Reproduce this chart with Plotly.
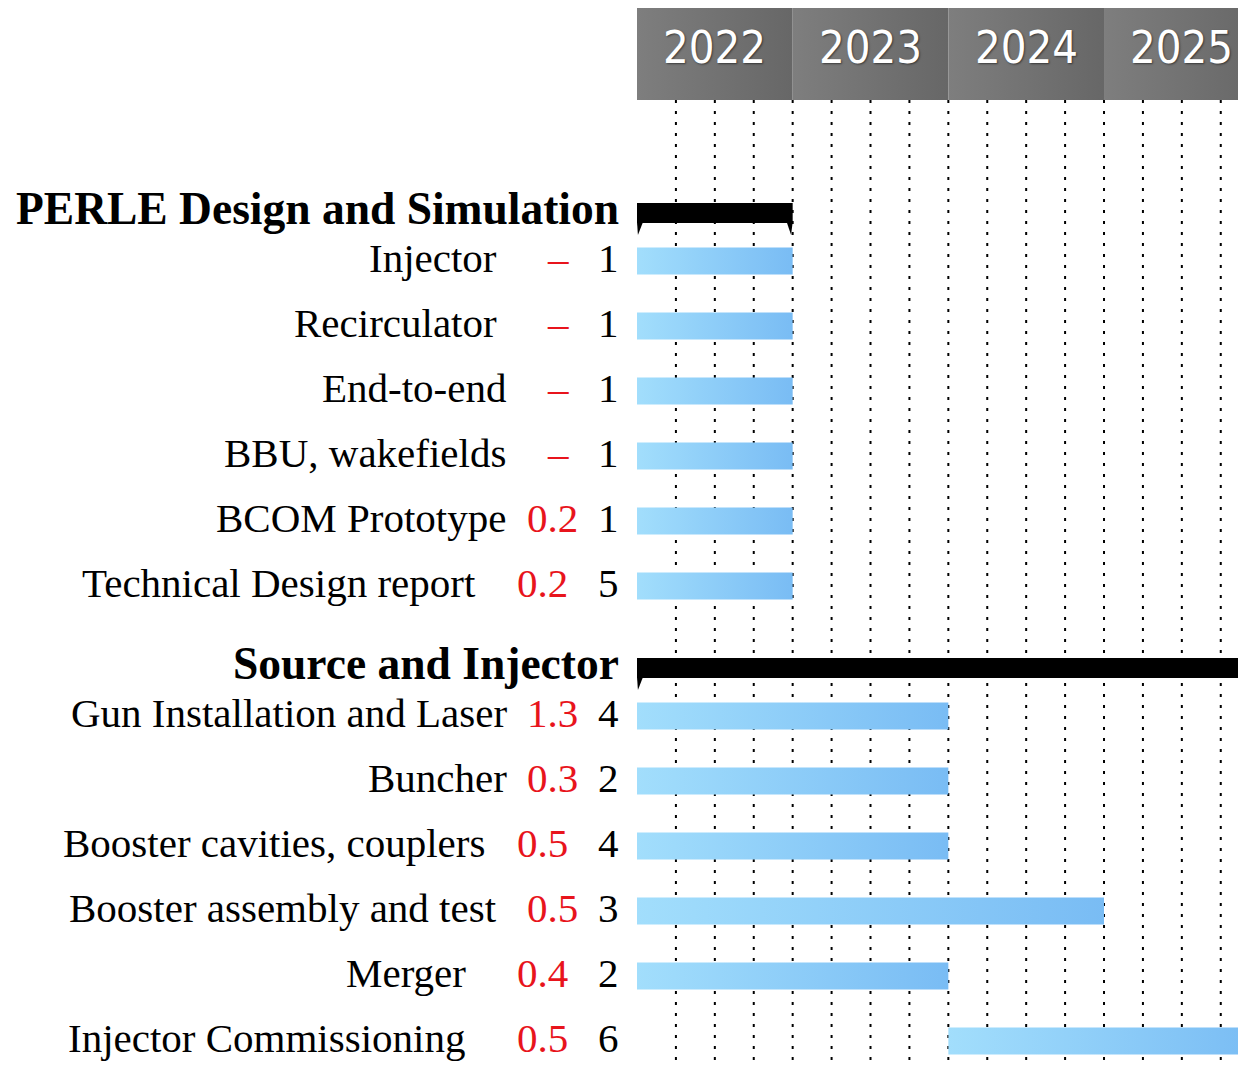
import plotly.graph_objects as go

# ---------------- data ----------------
YEARS = [2022, 2023, 2024, 2025]

GROUPS = ["PERLE Design and Simulation", "Source and Injector"]
GROUP_START = [2022.0, 2022.0]
GROUP_END = [2023.0, 2026.0]

PERLE_TASKS = ["Injector", "Recirculator", "End-to-end", "BBU, wakefields",
               "BCOM Prototype", "Technical Design report"]
PERLE_COST = ["–", "–", "–", "–", "0.2", "0.2"]
PERLE_FTE = [1, 1, 1, 1, 1, 5]
PERLE_START = [2022.0, 2022.0, 2022.0, 2022.0, 2022.0, 2022.0]
PERLE_END = [2023.0, 2023.0, 2023.0, 2023.0, 2023.0, 2023.0]

SOURCE_TASKS = ["Gun Installation and Laser", "Buncher", "Booster cavities, couplers",
                "Booster assembly and test", "Merger", "Injector Commissioning"]
SOURCE_COST = ["1.3", "0.3", "0.5", "0.5", "0.4", "0.5"]
SOURCE_FTE = [4, 2, 4, 3, 2, 6]
SOURCE_START = [2022.0, 2022.0, 2022.0, 2022.0, 2022.0, 2024.0]
SOURCE_END = [2024.0, 2024.0, 2024.0, 2025.0, 2024.0, 2026.0]

# ---------------- layout helpers (reference-window pixels) ----------------
WIN_W, WIN_H = 1246, 1065
BODY = 8                      # browser default body margin
PLOT_L = 637                  # left edge of the time axis (window px)
YEAR_PX = 155.67
X0 = 2022.0
X1 = X0 + (WIN_W - PLOT_L) / YEAR_PX
FIG_H = WIN_H - BODY
Y_BOTTOM = BODY + FIG_H

NAME_RIGHT = [[496, 496, 505, 505, 505, 475], [506, 506, 484, 496, 465, 464]]
COST_RIGHT = [[568, 568, 568, 568, 577, 567], [577, 577, 567, 577, 567, 567]]
FTE_RIGHT = 618
TXT_DX = 3

HEAD_TOP, HEAD_BOT = 8, 100
GROUP_BAR_H = 20
TASK_BAR_H = 27
ROW = 65
FIRST_TASK_OFF = 58
NEXT_GROUP_OFF = 72
FIRST_GROUP_TOP = 203

SERIF = "Liberation Serif, Times New Roman, serif"
BLUE_SCALE = [[0, "#a2defc"], [1, "#79bcf4"]]
GRAY_SCALE = [[0, "#7e7e7e"], [1, "#676767"]]


def px_to_paper(px):
    return (px - PLOT_L) / (WIN_W - PLOT_L)


fig = go.Figure()
annotations = []


def add_rect(x0, x1, y0, y1, scale=None, color=None):
    kw = dict(x=[x0, x1, x1, x0, x0], y=[y0, y0, y1, y1, y0], mode="lines",
              fill="toself", line=dict(width=0), hoverinfo="skip", showlegend=False)
    if scale is not None:
        kw["fillgradient"] = dict(type="horizontal", colorscale=scale)
    else:
        kw["fillcolor"] = color
    fig.add_trace(go.Scatter(**kw))


# dotted quarter lines
q = X0 + 0.25
while q < X1:
    fig.add_trace(go.Scatter(x=[q, q], y=[HEAD_BOT, WIN_H], mode="lines",
                             line=dict(color="black", width=2, dash="3px,8px"),
                             hoverinfo="skip", showlegend=False))
    q += 0.25

# year header
for yr in YEARS:
    add_rect(yr, yr + 1, HEAD_TOP, HEAD_BOT, scale=GRAY_SCALE)
    annotations.append(dict(x=yr + 0.5, y=47, xref="x", yref="y",
                            text=str(yr), showarrow=False, xanchor="center", yanchor="middle",
                            font=dict(family="DejaVu Sans Condensed, DejaVu Sans", size=45,
                                      color="white", shadow="1px 1px 2px rgba(0,0,0,0.5)")))

groups_data = [
    (PERLE_TASKS, PERLE_COST, PERLE_FTE, PERLE_START, PERLE_END),
    (SOURCE_TASKS, SOURCE_COST, SOURCE_FTE, SOURCE_START, SOURCE_END),
]

foot_w = 6 / YEAR_PX
gtop = FIRST_GROUP_TOP
for gi, (gname, gs, ge) in enumerate(zip(GROUPS, GROUP_START, GROUP_END)):
    tasks, cost, fte, st, en = groups_data[gi]
    gbot = gtop + GROUP_BAR_H
    add_rect(gs, ge, gtop, gbot, color="black")
    fig.add_trace(go.Scatter(x=[gs, gs + foot_w, gs + 0.006, gs], y=[gbot - 1, gbot - 1, gbot + 12, gbot - 1],
                             mode="lines", fill="toself", fillcolor="black", line=dict(width=0),
                             hoverinfo="skip", showlegend=False))
    fig.add_trace(go.Scatter(x=[ge - foot_w, ge, ge - 0.01, ge - foot_w],
                             y=[gbot - 1, gbot - 1, gbot + 12, gbot - 1],
                             mode="lines", fill="toself", fillcolor="black", line=dict(width=0),
                             hoverinfo="skip", showlegend=False))
    annotations.append(dict(x=px_to_paper(FTE_RIGHT + 3), y=gtop + GROUP_BAR_H / 2 - 5, xref="paper", yref="y",
                            text="<b>%s</b>" % gname, showarrow=False, xanchor="right", yanchor="middle",
                            font=dict(family=SERIF, size=45.5, color="black")))
    ycen = None
    for ti, name in enumerate(tasks):
        ycen = gtop + FIRST_TASK_OFF + ROW * ti
        add_rect(st[ti], en[ti], ycen - TASK_BAR_H / 2, ycen + TASK_BAR_H / 2, scale=BLUE_SCALE)
        ty = ycen - 3
        annotations.append(dict(x=px_to_paper(NAME_RIGHT[gi][ti] + TXT_DX), y=ty, xref="paper", yref="y",
                                text=name, showarrow=False, xanchor="right", yanchor="middle",
                                font=dict(family=SERIF, size=41, color="black")))
        annotations.append(dict(x=px_to_paper(COST_RIGHT[gi][ti] + TXT_DX), y=ty, xref="paper", yref="y",
                                text=cost[ti], showarrow=False, xanchor="right", yanchor="middle",
                                font=dict(family=SERIF, size=41, color="#e8141c")))
        annotations.append(dict(x=px_to_paper(FTE_RIGHT + TXT_DX), y=ty, xref="paper", yref="y",
                                text=str(fte[ti]), showarrow=False, xanchor="right", yanchor="middle",
                                font=dict(family=SERIF, size=41, color="black")))
    gtop = ycen + NEXT_GROUP_OFF

fig.update_layout(
    width=WIN_W - BODY, height=FIG_H,
    margin=dict(l=PLOT_L - BODY, r=0, t=0, b=0, pad=0),
    paper_bgcolor="white", plot_bgcolor="white",
    xaxis=dict(range=[X0, X1], visible=False, showgrid=False, zeroline=False, fixedrange=True),
    yaxis=dict(range=[Y_BOTTOM, BODY], visible=False, showgrid=False, zeroline=False, fixedrange=True),
    annotations=annotations,
    showlegend=False,
)

fig.write_html("out.html")
